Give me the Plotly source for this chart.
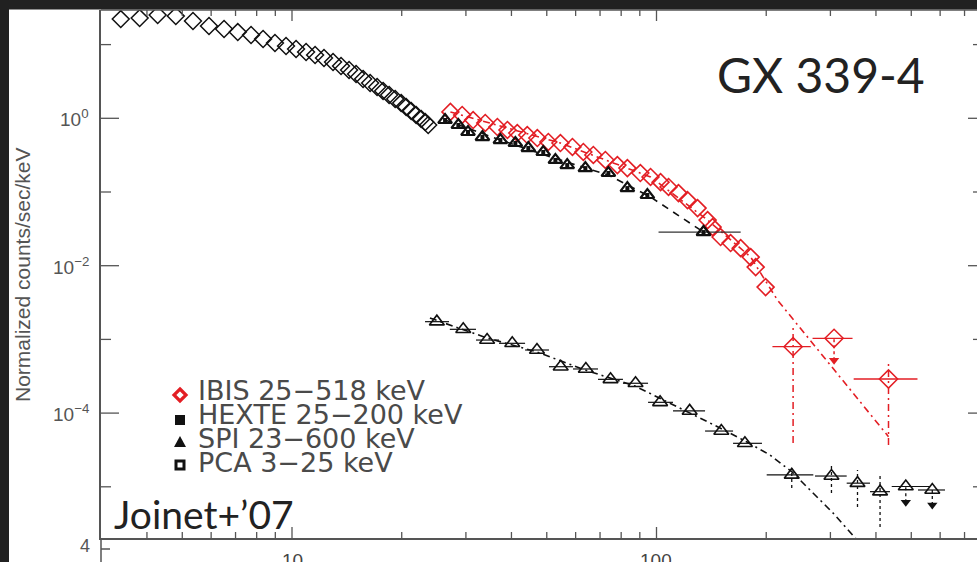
import math
import plotly.graph_objects as go

# ---------------- data (keV, normalized counts/sec/keV) ----------------
pca_energy = [3.39, 3.82, 4.28, 4.80, 5.35, 5.92, 6.51, 7.10, 7.72, 8.33, 8.98, 9.63,
              10.26, 10.93, 11.57, 12.24, 12.96, 13.63, 14.34, 14.99, 15.67, 16.38,
              17.12, 17.78, 18.47, 19.19, 19.93, 20.57, 21.23, 21.91, 22.62, 23.20, 23.64]
pca_flux = [22.2, 22.9, 25.2, 24.4, 20.9, 17.9, 16.3, 14.8, 13.5, 11.9, 10.5, 9.57,
            8.71, 7.94, 7.23, 6.58, 5.80, 5.13, 4.52, 3.99, 3.41, 3.01,
            2.66, 2.35, 2.07, 1.83, 1.61, 1.42, 1.26, 1.11, 0.98, 0.89, 0.81]

ibis_energy = [27.2, 29.3, 31.4, 33.9, 36.6, 39.0, 41.5, 44.2, 47.1, 50.5, 54.5, 58.8,
               63.0, 67.1, 72.4, 78.1, 83.2, 90.3, 96.3, 102.6, 107.9, 114.9, 121.6,
               129.6, 138.1, 142.5, 149.9, 159.7, 170.2, 181.3, 187.1, 199.2]
ibis_flux = [1.22, 1.11, 0.948, 0.864, 0.762, 0.694, 0.631, 0.593, 0.540, 0.477, 0.462,
             0.408, 0.349, 0.318, 0.272, 0.232, 0.211, 0.181, 0.160, 0.136, 0.117,
             0.0967, 0.0777, 0.0605, 0.0416, 0.0334, 0.0245, 0.0203, 0.0173, 0.0131,
             0.00958, 0.00513]
# IBIS wide high-energy bins
ibis_hi_energy = [237.0, 433.0]
ibis_hi_flux = [7.96e-4, 2.90e-4]
ibis_hi_elo = [208.0, 347.5]
ibis_hi_ehi = [265.0, 520.0]
ibis_hi_fhi = [1.57e-3, 5.25e-4]
ibis_hi_flo = [3.93e-5, 3.69e-5]
# IBIS upper limit
ibis_ul_energy = [307.0]
ibis_ul_flux = [1.035e-3]
ibis_ul_elo = [268.0]
ibis_ul_ehi = [345.0]
ibis_ul_arrow = [5.2e-4]
# IBIS model
ibis_model_energy = [27.2, 54.5, 96.3, 138.1, 181.3, 214.6, 433.0]
ibis_model_flux = [1.22, 0.462, 0.160, 0.0416, 0.0131, 3.43e-3, 4.79e-5]

hexte_energy = [26.3, 28.6, 30.4, 33.3, 37.3, 41.0, 44.5, 48.9, 52.8, 56.9, 63.8, 73.8, 83.2, 94.4]
hexte_flux = [0.948, 0.811, 0.652, 0.557, 0.507, 0.462, 0.395, 0.349, 0.272, 0.232, 0.211,
              0.181, 0.113, 0.0910]
hexte_wide_energy = [134.6]
hexte_wide_flux = [0.0286]
hexte_wide_elo = [101.3]
hexte_wide_ehi = [170.2]
hexte_model_energy = [26.3, 37.3, 52.8, 73.8, 96.3, 134.6]
hexte_model_flux = [0.948, 0.507, 0.285, 0.170, 0.0855, 0.0286]

spi_energy = [24.97, 29.5, 34.3, 40.2, 47.0, 54.6, 64.0, 74.8, 87.6, 102.3, 123.3, 150.6,
              174.8, 235.0, 302.0, 356.0, 410.5]
spi_flux = [1.74e-3, 1.37e-3, 9.8e-4, 8.85e-4, 7.18e-4, 4.26e-4, 3.97e-4, 2.87e-4, 2.54e-4,
            1.40e-4, 1.07e-4, 5.71e-5, 3.89e-5, 1.45e-5, 1.40e-5, 1.12e-5, 8.59e-6]
spi_elo = [23.17, 27.1, 31.97, 36.98, 43.6, 50.7, 59.0, 69.1, 80.9, 94.8, 111.0, 135.9,
           162.2, 200.6, 272.2, 332.5, 385.2]
spi_ehi = [26.96, 31.97, 36.98, 43.6, 50.7, 59.0, 69.1, 80.9, 94.8, 111.0, 135.9, 162.2,
           194.7, 269.3, 332.5, 385.2, 437.0]
# dotted flux errors of the faint SPI bins
spi_err_energy = [235.0, 302.0, 356.0, 410.5]
spi_err_fhi = [1.80e-5, 1.98e-5, 1.69e-5, 1.54e-5]
spi_err_flo = [9.63e-6, 8.24e-6, 5.32e-6, 2.84e-6]
# SPI upper limits
spi_ul_energy = [483.0, 571.0]
spi_ul_flux = [1.01e-5, 9.05e-6]
spi_ul_elo = [441.9, 521.6]
spi_ul_ehi = [562.8, 618.7]
spi_ul_arrow = [6.16e-6, 5.66e-6]
# SPI model
spi_model_energy = [23.9, 34.3, 47.0, 63.7, 87.3, 102.2, 123.6, 149.4, 177.1, 204.8, 235.4,
                    268.8, 305.0, 354.8, 385.2]
spi_model_flux = [1.95e-3, 1.045e-3, 6.75e-4, 3.84e-4, 2.33e-4, 1.60e-4, 1.00e-4, 6.28e-5,
                  4.05e-5, 2.70e-5, 1.59e-5, 8.24e-6, 4.41e-6, 1.90e-6, 1.15e-6]

legend_labels = ["IBIS 25\u2212518 keV", "HEXTE 25\u2212200 keV", "SPI 23\u2212600 keV", "PCA 3\u221225 keV"]

# axis ticks
x_major = [10, 100]
x_major_text = ["10", "100"]
x_minor = [4, 5, 6, 7, 8, 9, 20, 30, 40, 50, 60, 70, 80, 90, 200, 300, 400, 500, 600, 700]
y_major = [1, 1e-2, 1e-4]
y_major_text = ["10<sup>0</sup>", "10<sup>\u22122</sup>", "10<sup>\u22124</sup>"]
y_minor = [10, 0.1, 1e-3, 1e-5]

# ---------------- layout geometry (pixels) ----------------
W, H = 977, 562
L, R, T, B = 101, 977, 10, 538
def px(x):
    return (x - L) / (R - L)
def py(y):
    return (B - y) / (B - T)

xmin = 1 + (L - 292) / 364.5
xmax = 1 + (R - 292) / 364.5
ymax = (118.3 - T) / 73.7
ymin = (118.3 - B) / 73.7
def fx(v):  # paper fraction of an x value
    return (math.log10(v) - xmin) / (xmax - xmin)
def fy(v):
    return (math.log10(v) - ymin) / (ymax - ymin)

RED = "#e31e24"
BLK = "#111111"
AX = "#555555"

def segs(xs, ylo, yhi):
    X, Y = [], []
    for x, a, b in zip(xs, ylo, yhi):
        X += [x, x, None]
        Y += [a, b, None]
    return X, Y

def poly(points):
    return "M " + " L ".join(f"{px(a):.5f},{py(b):.5f}" for a, b in points) + " Z"

fig = go.Figure()

# models
fig.add_trace(go.Scatter(x=spi_model_energy, y=spi_model_flux, mode="lines",
                         line=dict(color=BLK, width=1.6, dash="7px,4px,2px,4px"), showlegend=False))
fig.add_trace(go.Scatter(x=hexte_model_energy, y=hexte_model_flux, mode="lines",
                         line=dict(color=BLK, width=1.6, dash="7px,6px"), showlegend=False))
fig.add_trace(go.Scatter(x=ibis_model_energy, y=ibis_model_flux, mode="lines",
                         line=dict(color=RED, width=1.6, dash="7px,4px,2px,4px"), showlegend=False))

# PCA
fig.add_trace(go.Scatter(x=pca_energy, y=pca_flux, mode="markers",
                         marker=dict(symbol="diamond-open", size=13, color=BLK, line=dict(width=1.5)),
                         showlegend=False))

# SPI
fig.add_trace(go.Scatter(
    x=spi_energy, y=spi_flux, mode="markers",
    marker=dict(symbol="triangle-up-open", size=13, color=BLK, line=dict(width=1.6)),
    error_x=dict(type="data", symmetric=False,
                 array=[h - e for h, e in zip(spi_ehi, spi_energy)],
                 arrayminus=[e - l for e, l in zip(spi_energy, spi_elo)],
                 color=BLK, thickness=1.2, width=0),
    showlegend=False))
sx, sy = segs(spi_err_energy, spi_err_flo, spi_err_fhi)
fig.add_trace(go.Scatter(x=sx, y=sy, mode="lines", line=dict(color=BLK, width=1.3, dash="dot"),
                         showlegend=False))
sx, sy = segs(spi_ul_energy, spi_ul_arrow, spi_ul_flux)
fig.add_trace(go.Scatter(x=sx, y=sy, mode="lines", line=dict(color=BLK, width=1.3, dash="dot"),
                         showlegend=False))
fig.add_trace(go.Scatter(
    x=spi_ul_energy, y=spi_ul_flux, mode="markers",
    marker=dict(symbol="triangle-up-open", size=13, color=BLK, line=dict(width=1.6)),
    error_x=dict(type="data", symmetric=False,
                 array=[h - e for h, e in zip(spi_ul_ehi, spi_ul_energy)],
                 arrayminus=[e - l for e, l in zip(spi_ul_energy, spi_ul_elo)],
                 color=BLK, thickness=1.2, width=0),
    showlegend=False))
fig.add_trace(go.Scatter(x=spi_ul_energy, y=spi_ul_arrow, mode="markers",
                         marker=dict(symbol="triangle-down", size=9, color=BLK), showlegend=False))

# IBIS
fig.add_trace(go.Scatter(x=ibis_energy, y=ibis_flux, mode="markers",
                         marker=dict(symbol="diamond-open", size=13, color=RED, line=dict(width=1.6)),
                         showlegend=False))
sx, sy = segs(ibis_hi_energy, ibis_hi_flo, ibis_hi_fhi)
fig.add_trace(go.Scatter(x=sx, y=sy, mode="lines", line=dict(color=RED, width=1.5, dash="7px,4px,2px,4px"),
                         showlegend=False))
sx, sy = segs(ibis_ul_energy, ibis_ul_arrow, ibis_ul_flux)
fig.add_trace(go.Scatter(x=sx, y=sy, mode="lines", line=dict(color=RED, width=1.5, dash="dot"),
                         showlegend=False))
fig.add_trace(go.Scatter(
    x=ibis_hi_energy + ibis_ul_energy, y=ibis_hi_flux + ibis_ul_flux, mode="markers",
    marker=dict(symbol="diamond-open", size=14, color=RED, line=dict(width=1.5)),
    error_x=dict(type="data", symmetric=False,
                 array=[h - e for h, e in zip(ibis_hi_ehi + ibis_ul_ehi, ibis_hi_energy + ibis_ul_energy)],
                 arrayminus=[e - l for e, l in zip(ibis_hi_energy + ibis_ul_energy, ibis_hi_elo + ibis_ul_elo)],
                 color=RED, thickness=1.3, width=0),
    showlegend=False))
fig.add_trace(go.Scatter(x=ibis_ul_energy, y=ibis_ul_arrow, mode="markers",
                         marker=dict(symbol="triangle-down", size=9, color=RED), showlegend=False))

# HEXTE
fig.add_trace(go.Scatter(
    x=hexte_wide_energy, y=hexte_wide_flux, mode="markers",
    marker=dict(symbol="triangle-up-open", size=12, color=BLK, line=dict(width=2)),
    error_x=dict(type="data", symmetric=False,
                 array=[h - e for h, e in zip(hexte_wide_ehi, hexte_wide_energy)],
                 arrayminus=[e - l for e, l in zip(hexte_wide_energy, hexte_wide_elo)],
                 color="#333333", thickness=1.2, width=0),
    showlegend=False))
fig.add_trace(go.Scatter(x=hexte_energy + hexte_wide_energy, y=hexte_flux + hexte_wide_flux, mode="markers",
                         marker=dict(symbol="triangle-up-open", size=12, color=BLK, line=dict(width=2.2)),
                         showlegend=False))
fig.add_trace(go.Scatter(x=hexte_energy + hexte_wide_energy, y=hexte_flux + hexte_wide_flux, mode="markers",
                         marker=dict(symbol="square", size=4, color=BLK), showlegend=False))

annotations = []
for lab, yy in zip(legend_labels, [390, 414, 438, 462]):
    annotations.append(dict(x=px(196), y=py(yy), xref="paper", yref="paper", text=lab,
                            showarrow=False, xanchor="left", yanchor="middle",
                            font=dict(family="DejaVu Sans", size=27, color="#4a4a4a")))
annotations += [
    dict(x=px(821), y=py(74), xref="paper", yref="paper", text="GX 339-4", showarrow=False,
         xanchor="center", yanchor="middle", font=dict(family="Lato", size=48, color="#222222")),
    dict(x=px(112), y=py(514), xref="paper", yref="paper", text="Joinet+\u201907", showarrow=False,
         xanchor="left", yanchor="middle", font=dict(family="Lato", size=39, color="#222222")),
    dict(x=px(22), y=py(275), xref="paper", yref="paper", text="Normalized counts/sec/keV",
         showarrow=False, textangle=-90, xanchor="center", yanchor="middle",
         font=dict(family="Liberation Sans", size=21, color="#555555")),
    dict(x=px(92), y=py(546), xref="paper", yref="paper", text="4", showarrow=False,
         xanchor="right", yanchor="middle", font=dict(family="Liberation Sans", size=18, color="#555555")),
]
for v, t in zip(y_major, y_major_text):
    annotations.append(dict(x=px(91), y=fy(v), xref="paper", yref="paper", text=t, showarrow=False,
                            xanchor="right", yanchor="middle",
                            font=dict(family="Liberation Sans", size=19, color="#555555")))
# x tick labels: only their upper part shows at the bottom edge, as in the slide
for v, t in zip(x_major, x_major_text):
    annotations.append(dict(x=fx(v), y=py(549), xref="paper", yref="paper", text=t, showarrow=False,
                            xanchor="center", yanchor="top", height=12, valign="top", borderpad=0,
                            font=dict(family="Liberation Sans", size=19, color="#444444")))

# legend key glyphs + frame decorations (pixel layout)
kx = 180
shapes = [
    dict(type="rect", xref="paper", yref="paper", x0=px(0), x1=px(W), y0=py(0), y1=py(9.5),
         fillcolor="#212121", line=dict(width=0), layer="above"),
    dict(type="rect", xref="paper", yref="paper", x0=px(0), x1=px(9), y0=py(H), y1=py(0),
         fillcolor="#212121", line=dict(width=0), layer="above"),
    dict(type="line", xref="paper", yref="paper", x0=0, x1=0, y0=py(538), y1=py(H),
         line=dict(color=AX, width=1.5)),
    dict(type="line", xref="paper", yref="paper", x0=0, x1=px(110), y0=py(549), y1=py(549),
         line=dict(color=AX, width=1.5)),
    dict(type="line", xref="paper", yref="paper", x0=0, x1=1, y0=1, y1=1,
         line=dict(color=AX, width=1.5)),
    dict(type="path", xref="paper", yref="paper",
         path=poly([(kx, 389), (kx + 6, 395), (kx, 401), (kx - 6, 395)]),
         fillcolor="white", line=dict(color=RED, width=3.2)),
    dict(type="rect", xref="paper", yref="paper", x0=px(kx - 5), x1=px(kx + 5), y0=py(425), y1=py(415),
         fillcolor=BLK, line=dict(width=0)),
    dict(type="path", xref="paper", yref="paper",
         path=poly([(kx, 436), (kx + 6, 447), (kx - 6, 447)]),
         fillcolor=BLK, line=dict(width=0)),
    dict(type="rect", xref="paper", yref="paper", x0=px(kx - 4), x1=px(kx + 4), y0=py(469), y1=py(461),
         fillcolor="white", line=dict(color=BLK, width=3)),
]
tick = dict(color=AX, width=1.3)
for v in x_major:
    shapes.append(dict(type="line", xref="paper", yref="paper", x0=fx(v), x1=fx(v), y0=0, y1=11 / (B - T), line=tick))
    shapes.append(dict(type="line", xref="paper", yref="paper", x0=fx(v), x1=fx(v), y0=1, y1=1 - 11 / (B - T), line=tick))
for v in x_minor:
    shapes.append(dict(type="line", xref="paper", yref="paper", x0=fx(v), x1=fx(v), y0=0, y1=6 / (B - T), line=tick))
    shapes.append(dict(type="line", xref="paper", yref="paper", x0=fx(v), x1=fx(v), y0=1, y1=1 - 6 / (B - T), line=tick))
for v in y_major:
    shapes.append(dict(type="line", xref="paper", yref="paper", x0=0, x1=18 / (R - L), y0=fy(v), y1=fy(v), line=tick))
    shapes.append(dict(type="line", xref="paper", yref="paper", x0=1, x1=1 - 9 / (R - L), y0=fy(v), y1=fy(v), line=tick))
for v in y_minor:
    shapes.append(dict(type="line", xref="paper", yref="paper", x0=0, x1=10 / (R - L), y0=fy(v), y1=fy(v), line=tick))
    shapes.append(dict(type="line", xref="paper", yref="paper", x0=1, x1=1 - 4 / (R - L), y0=fy(v), y1=fy(v), line=tick))

fig.update_layout(
    width=W, height=H, autosize=False,
    margin=dict(l=L, r=W - R, t=T, b=H - B, pad=0, autoexpand=False),
    paper_bgcolor="white", plot_bgcolor="white",
    showlegend=False,
    annotations=annotations, shapes=shapes,
    xaxis=dict(type="log", range=[xmin, xmax], showgrid=False, zeroline=False, automargin=False,
               showline=True, linecolor=AX, linewidth=1.5, mirror=False, ticks="",
               showticklabels=False),
    yaxis=dict(type="log", range=[ymin, ymax], showgrid=False, zeroline=False, automargin=False,
               showline=True, linecolor=AX, linewidth=1.5, mirror=False, ticks="",
               showticklabels=False),
)

page_css = ("document.documentElement.style.overflow='hidden';"
            "document.body.style.overflow='hidden';")

fig.write_html("out.html", config={"displayModeBar": False, "responsive": False},
               post_script=page_css)
